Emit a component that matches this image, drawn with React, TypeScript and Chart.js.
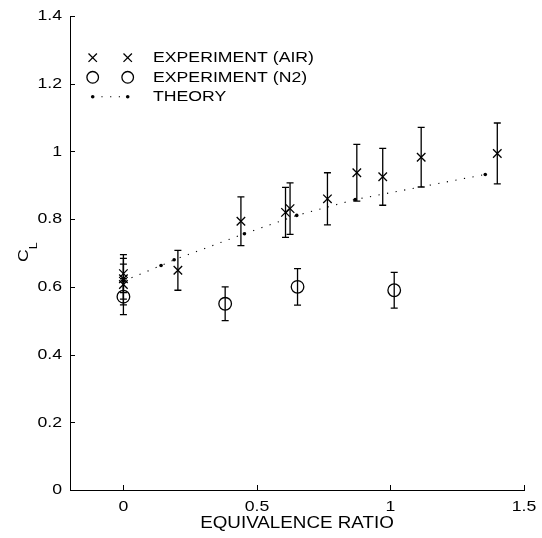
import React, { useEffect, useRef } from "react";
import { Chart, registerables } from "chart.js";

Chart.register(...registerables);

// ---- data ----
const airX = [0, 0, 0, 0.204, 0.44, 0.607, 0.624, 0.764, 0.874, 0.971, 1.115, 1.4];
const airY = [0.639, 0.624, 0.607, 0.649, 0.794, 0.82, 0.831, 0.86, 0.937, 0.925, 0.983, 0.994];
const airErr = [0.056, 0.06, 0.06, 0.059, 0.072, 0.074, 0.076, 0.077, 0.084, 0.084, 0.088, 0.09];

const n2X = [0, 0.381, 0.652, 1.014];
const n2Y = [0.571, 0.55, 0.6, 0.59];
const n2Err = [0.053, 0.05, 0.054, 0.053];

const theoryX = [0, 0.141, 0.19, 0.453, 0.649, 0.868, 1.355];
const theoryY = [0.617, 0.663, 0.68, 0.757, 0.811, 0.858, 0.932];

const xTicks = [0, 0.5, 1, 1.5];
const xTickLabels = ["0", "0.5", "1", "1.5"];
const yTicks = [0, 0.2, 0.4, 0.6, 0.8, 1, 1.2, 1.4];
const yTickLabels = ["0", "0.2", "0.4", "0.6", "0.8", "1", "1.2", "1.4"];

const legendLabels = ["EXPERIMENT (AIR)", "EXPERIMENT (N2)", "THEORY"];
const xTitle = "EQUIVALENCE RATIO";
const yTitleMain = "C";
const yTitleSub = "L";

const FONT = '"Liberation Sans", Arial, Helvetica, sans-serif';
const FS = 15.5; // font size
const SX = 1.14; // horizontal stretch of the glyphs
const LW = 1.3; // marker / error bar line width

export default function App() {
  const ref = useRef<HTMLCanvasElement>(null);

  useEffect(() => {
    const canvas = ref.current;
    if (!canvas) return;

    const text = (
      ctx: CanvasRenderingContext2D,
      t: string,
      x: number,
      y: number,
      align: CanvasTextAlign,
      size = FS
    ) => {
      ctx.save();
      ctx.translate(x, y);
      ctx.scale(SX, 1);
      ctx.font = `${size}px ${FONT}`;
      ctx.textAlign = align;
      ctx.textBaseline = "middle";
      ctx.fillText(t, 0, 0);
      ctx.restore();
    };

    const errorBars = {
      id: "errorBars",
      afterDatasetsDraw(chart: any) {
        const { ctx, scales } = chart;
        const x = scales.x;
        const y = scales.y;
        ctx.save();
        ctx.strokeStyle = "#000";
        ctx.lineWidth = LW;
        const groups: [number[], number[], number[]][] = [
          [airX, airY, airErr],
          [n2X, n2Y, n2Err],
        ];
        for (const [xs, ys, es] of groups) {
          for (let i = 0; i < xs.length; i++) {
            const px = x.getPixelForValue(xs[i]);
            const top = y.getPixelForValue(ys[i] + es[i]);
            const bot = y.getPixelForValue(ys[i] - es[i]);
            ctx.beginPath();
            ctx.moveTo(px, top);
            ctx.lineTo(px, bot);
            ctx.moveTo(px - 3.5, top);
            ctx.lineTo(px + 3.5, top);
            ctx.moveTo(px - 3.5, bot);
            ctx.lineTo(px + 3.5, bot);
            ctx.stroke();
          }
        }
        ctx.restore();
      },
    };

    const decorations = {
      id: "decorations",
      afterDraw(chart: any) {
        const { ctx, scales, chartArea } = chart;
        const x = scales.x;
        const y = scales.y;
        ctx.save();
        ctx.strokeStyle = "#000";
        ctx.fillStyle = "#000";
        ctx.lineWidth = 1;
        // inward tick marks
        ctx.beginPath();
        for (const v of xTicks) {
          const px = Math.round(x.getPixelForValue(v)) + 0.5;
          ctx.moveTo(px, chartArea.bottom);
          ctx.lineTo(px, chartArea.bottom - 5);
        }
        for (const v of yTicks) {
          const py = Math.round(y.getPixelForValue(v)) + 0.5;
          ctx.moveTo(chartArea.left, py);
          ctx.lineTo(chartArea.left + 5, py);
        }
        ctx.stroke();

        // tick labels
        xTicks.forEach((v, i) => {
          text(ctx, xTickLabels[i], x.getPixelForValue(v), chartArea.bottom + 17, "center");
        });
        yTicks.forEach((v, i) => {
          text(ctx, yTickLabels[i], chartArea.left - 8, y.getPixelForValue(v), "right");
        });

        // x title
        text(ctx, xTitle, (chartArea.left + chartArea.right) / 2, chartArea.bottom + 33, "center", 16.5);

        // y title C_L rotated
        ctx.save();
        ctx.translate(27.5, 262);
        ctx.rotate(-Math.PI / 2);
        ctx.scale(SX, 1);
        ctx.textAlign = "left";
        ctx.textBaseline = "alphabetic";
        ctx.font = `${FS}px ${FONT}`;
        ctx.fillText(yTitleMain, 0, 0);
        const cw = ctx.measureText(yTitleMain).width;
        ctx.font = `11px ${FONT}`;
        ctx.fillText(yTitleSub, cw, 9.5);
        ctx.restore();

        // legend
        const mx1 = 92.7;
        const mx2 = 127.7;
        const tx = 153;
        const rows = [57.7, 77.3, 96.7];
        ctx.lineWidth = LW;
        const cross = (cx: number, cy: number) => {
          const d = 4.2;
          ctx.beginPath();
          ctx.moveTo(cx - d, cy - d);
          ctx.lineTo(cx + d, cy + d);
          ctx.moveTo(cx - d, cy + d);
          ctx.lineTo(cx + d, cy - d);
          ctx.stroke();
        };
        cross(mx1, rows[0]);
        cross(mx2, rows[0]);
        for (const cx of [mx1, mx2]) {
          ctx.beginPath();
          ctx.arc(cx, rows[1], 5.8, 0, Math.PI * 2);
          ctx.stroke();
        }
        ctx.save();
        ctx.lineWidth = 1.1;
        ctx.setLineDash([1.2, 7.5]);
        ctx.beginPath();
        ctx.moveTo(mx1, rows[2]);
        ctx.lineTo(mx2, rows[2]);
        ctx.stroke();
        ctx.restore();
        for (const cx of [mx1, mx2]) {
          ctx.beginPath();
          ctx.arc(cx, rows[2], 1.8, 0, Math.PI * 2);
          ctx.fill();
        }
        legendLabels.forEach((t, i) => text(ctx, t, tx, rows[i] + 0.5, "left"));
        ctx.restore();
      },
    };

    const chart = new Chart(canvas, {
      type: "scatter",
      data: {
        datasets: [
          {
            label: legendLabels[0],
            data: airX.map((v, i) => ({ x: v, y: airY[i] })),
            pointStyle: "crossRot",
            pointRadius: 6,
            pointHoverRadius: 6,
            borderColor: "#000",
            backgroundColor: "#000",
            borderWidth: LW,
            showLine: false,
          },
          {
            label: legendLabels[1],
            data: n2X.map((v, i) => ({ x: v, y: n2Y[i] })),
            pointStyle: "circle",
            pointRadius: 6.3,
            pointHoverRadius: 6.3,
            borderColor: "#000",
            backgroundColor: "rgba(0,0,0,0)",
            borderWidth: LW,
            showLine: false,
          },
          {
            label: legendLabels[2],
            data: theoryX.map((v, i) => ({ x: v, y: theoryY[i] })),
            showLine: true,
            borderDash: [1.2, 7.5],
            borderColor: "#000",
            borderWidth: 1.1,
            pointStyle: "circle",
            pointRadius: 1.8,
            pointHoverRadius: 1.8,
            pointBorderWidth: 0,
            pointBackgroundColor: "#000",
            backgroundColor: "#000",
            tension: 0,
          } as any,
        ],
      },
      options: {
        animation: false,
        responsive: false,
        events: [],
        layout: { padding: { top: 16, right: 18, bottom: 0, left: 0 } },
        plugins: {
          legend: { display: false },
          tooltip: { enabled: false },
        },
        scales: {
          x: {
            type: "linear",
            min: -0.2,
            max: 1.5,
            afterBuildTicks: (s: any) => {
              s.ticks = xTicks.map((v) => ({ value: v }));
            },
            afterFit: (s: any) => {
              s.height = 48;
            },
            ticks: { display: false },
            grid: { display: false, drawTicks: false },
            border: { display: true, color: "#000", width: 1 },
          },
          y: {
            type: "linear",
            min: 0,
            max: 1.4,
            afterBuildTicks: (s: any) => {
              s.ticks = yTicks.map((v) => ({ value: v }));
            },
            afterFit: (s: any) => {
              s.width = 70;
            },
            ticks: { display: false },
            grid: { display: false, drawTicks: false },
            border: { display: true, color: "#000", width: 1 },
          },
        },
      },
      plugins: [errorBars, decorations],
    });

    return () => chart.destroy();
  }, []);

  return (
    <div style={{ position: "absolute", left: 0, top: 0, width: 542, height: 538, background: "#fff" }}>
      <canvas ref={ref} width={542} height={538} style={{ display: "block" }} />
    </div>
  );
}
